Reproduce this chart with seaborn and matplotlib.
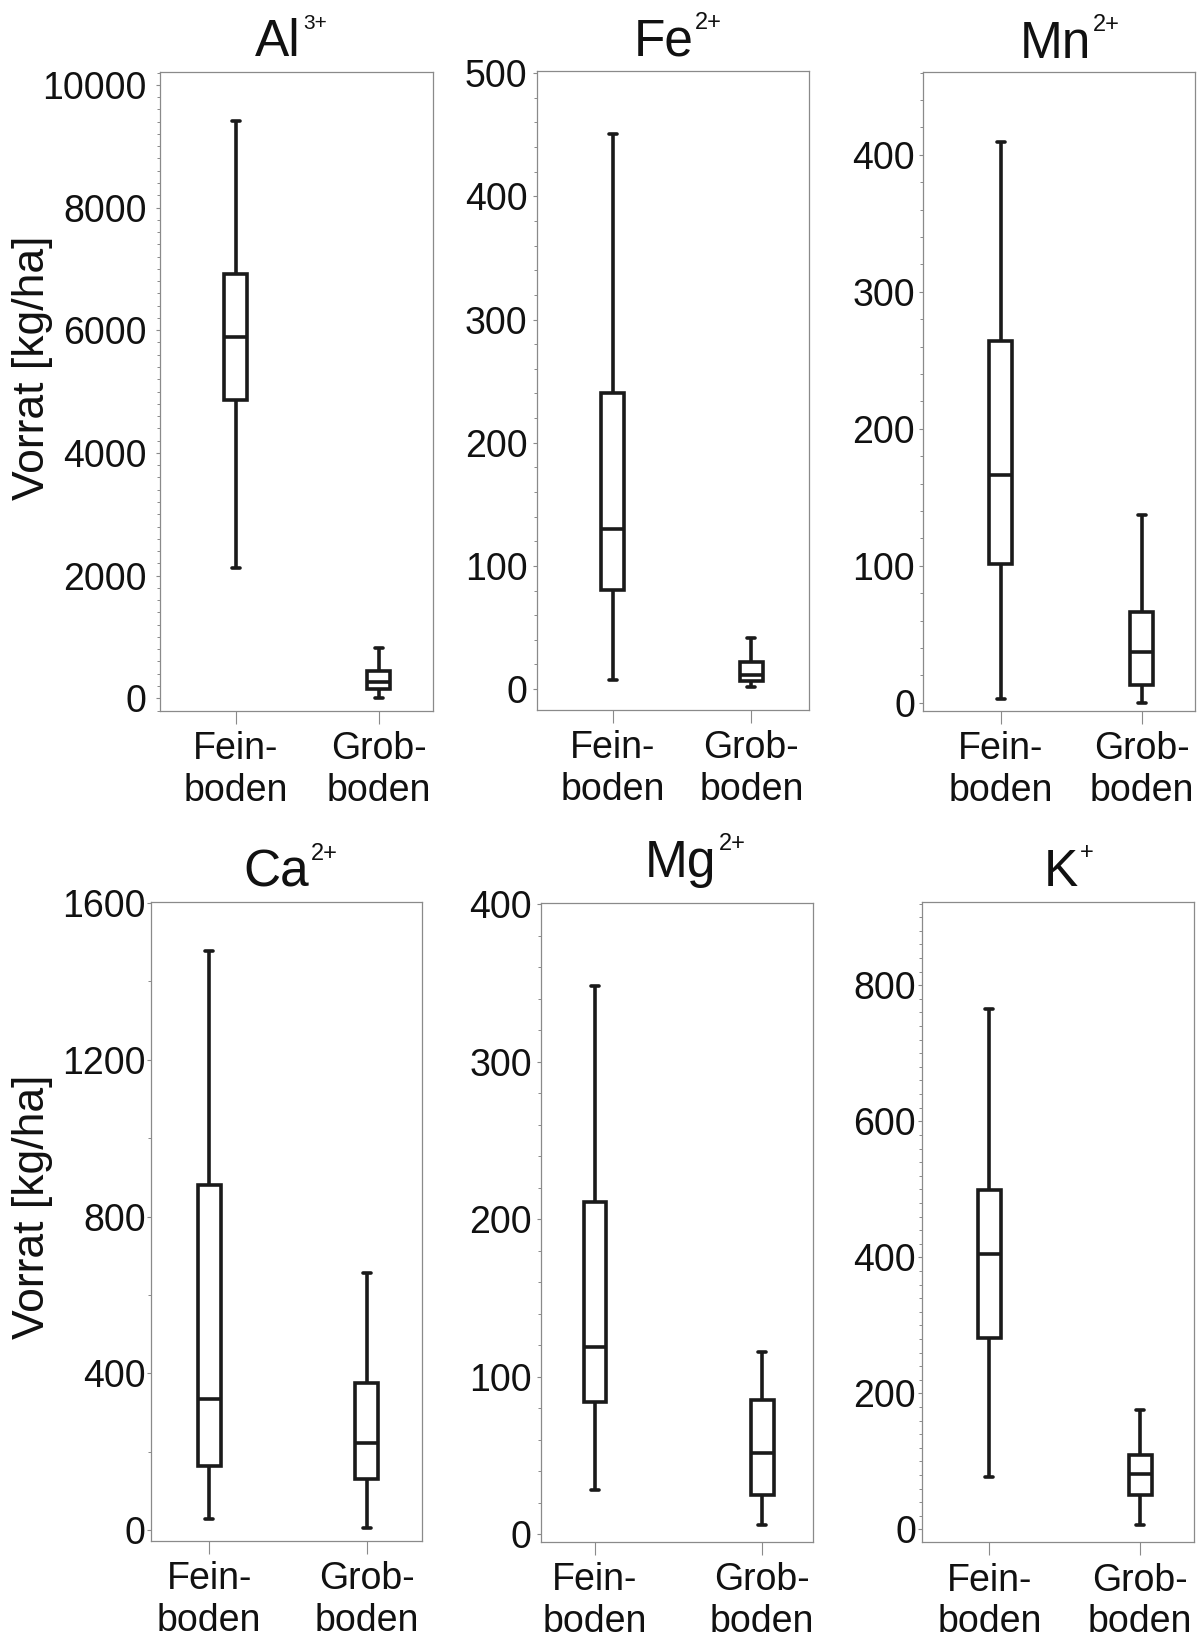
import numpy as np
import pandas as pd
import matplotlib
matplotlib.use("Agg")
import matplotlib.pyplot as plt
from matplotlib.ticker import MultipleLocator
import seaborn as sns

# ---------------- data (five-number summaries: min, Q1, median, Q3, max; kg/ha) ----
categories = ["Fein-\nboden", "Grob-\nboden"]

al_fein = [2130, 4870, 5890, 6910, 9410]
al_grob = [0, 157, 270, 450, 815]
fe_fein = [7, 80.5, 130, 240, 451]
fe_grob = [1.6, 6.7, 11.6, 21.6, 41.6]
mn_fein = [3, 101, 166, 264, 409.5]
mn_grob = [0, 13, 37, 66.4, 137]
ca_fein = [27, 163, 335, 881, 1478]
ca_grob = [4, 130, 221, 374, 656]
mg_fein = [28, 83.6, 118.8, 210.6, 348.3]
mg_grob = [5.7, 24.6, 51.6, 85.3, 115.8]
k_fein = [77, 282, 405, 499, 765]
k_grob = [6, 50, 82, 109, 175]

ions = ["Al", "Fe", "Mn", "Ca", "Mg", "K"]
charges = ["3+", "2+", "2+", "2+", "2+", "+"]
series = [(al_fein, al_grob), (fe_fein, fe_grob), (mn_fein, mn_grob),
          (ca_fein, ca_grob), (mg_fein, mg_grob), (k_fein, k_grob)]
y_label = "Vorrat [kg/ha]"

# ---------------- layout (pixels of a 1202 x 1638 canvas) -------------------------
W, H = 1202, 1638
layout = [
    dict(rect=(160, 71.7, 433, 710.7), xlim=(-0.531, 1.378), ylim=(-202, 10214),
         major=2000, minor=200, width=0.161, cap=0.056, pad=6.3, tx=0.349, tdy=15.7, sup=15),
    dict(rect=(537.3, 70.7, 809.3, 710), xlim=(-0.544, 1.418), ylim=(-17, 502),
         major=100, minor=20, width=0.166, cap=0.058, pad=4.0, tx=0.353, tdy=14.7, sup=17),
    dict(rect=(922.7, 71.7, 1194.7, 710.7), xlim=(-0.556, 1.377), ylim=(-5.8, 460.6),
         major=100, minor=20, width=0.163, cap=0.057, pad=2.3, tx=0.355, tdy=13.4, sup=17),
    dict(rect=(150.7, 902.3, 422.3, 1541), xlim=(-0.372, 1.353), ylim=(-28, 1602),
         major=400, minor=200, width=0.146, cap=0.051, pad=0.3, tx=0.341, tdy=15.6, sup=17),
    dict(rect=(541, 902.7, 813.3, 1541.7), xlim=(-0.323, 1.305), ylim=(-4.9, 401),
         major=100, minor=20, width=0.137, cap=0.048, pad=3.5, tx=0.382, tdy=26, sup=17),
    dict(rect=(921.7, 902.3, 1194.3, 1542.3), xlim=(-0.449, 1.36), ylim=(-19, 922),
         major=200, minor=20, width=0.153, cap=0.053, pad=0.8, tx=0.446, tdy=16.3, sup=17),
]
ylabel_coords = {0: (-0.393, 0.537), 3: (-0.36, 0.523)}

sns.set_style("ticks")
plt.rcParams["font.family"] = ["Liberation Sans", "DejaVu Sans"]

fig = plt.figure(figsize=(W / 100, H / 100), dpi=100)

frame_col = "#8a8a8a"
ink = "#1a1a1a"

for i, (ion, charge, (fein, grob), lay) in enumerate(zip(ions, charges, series, layout)):
    x0, y0, x1, y1 = lay["rect"]
    ax = fig.add_axes([x0 / W, 1 - y1 / H, (x1 - x0) / W, (y1 - y0) / H])
    df = pd.DataFrame({
        "Boden": [categories[0]] * len(fein) + [categories[1]] * len(grob),
        "Vorrat": list(fein) + list(grob),
    })
    sns.boxplot(data=df, x="Boden", y="Vorrat", order=categories, whis=np.inf,
                width=lay["width"], color="white", linecolor=ink, linewidth=2.6,
                capwidths=lay["cap"], ax=ax)
    ax.set_xlim(*lay["xlim"])
    ax.set_ylim(*lay["ylim"])
    ax.yaxis.set_major_locator(MultipleLocator(lay["major"]))
    ax.yaxis.set_minor_locator(MultipleLocator(lay["minor"]))
    ax.set_xlabel("")
    if i in ylabel_coords:
        ax.set_ylabel(y_label, fontsize=32, color="#111111")
        ax.yaxis.set_label_coords(*ylabel_coords[i])
    else:
        ax.set_ylabel("")
    for s in ax.spines.values():
        s.set_visible(True)
        s.set_color(frame_col)
        s.set_linewidth(0.9)
    ax.tick_params(axis="y", which="major", direction="out", length=3.2, width=0.8,
                   color=frame_col, labelsize=27, labelcolor="#111111", pad=lay["pad"])
    ax.tick_params(axis="y", which="minor", direction="out", length=2.5, width=0.7,
                   color=frame_col)
    ax.tick_params(axis="x", which="major", direction="out", length=9.1, width=0.8,
                   color=frame_col, labelsize=27, labelcolor="#111111", pad=5.5)
    hpx = y1 - y0
    main = ax.text(lay["tx"], 1 + lay["tdy"] / hpx, ion, transform=ax.transAxes,
                   fontsize=37, ha="left", va="baseline", color="#111111")
    ax.annotate(charge, xy=(1, 0), xycoords=main, xytext=(1.5, 27.5),
                textcoords="offset points", fontsize=lay["sup"], ha="left",
                va="baseline", color="#111111")

fig.savefig("out.png", dpi=100)
